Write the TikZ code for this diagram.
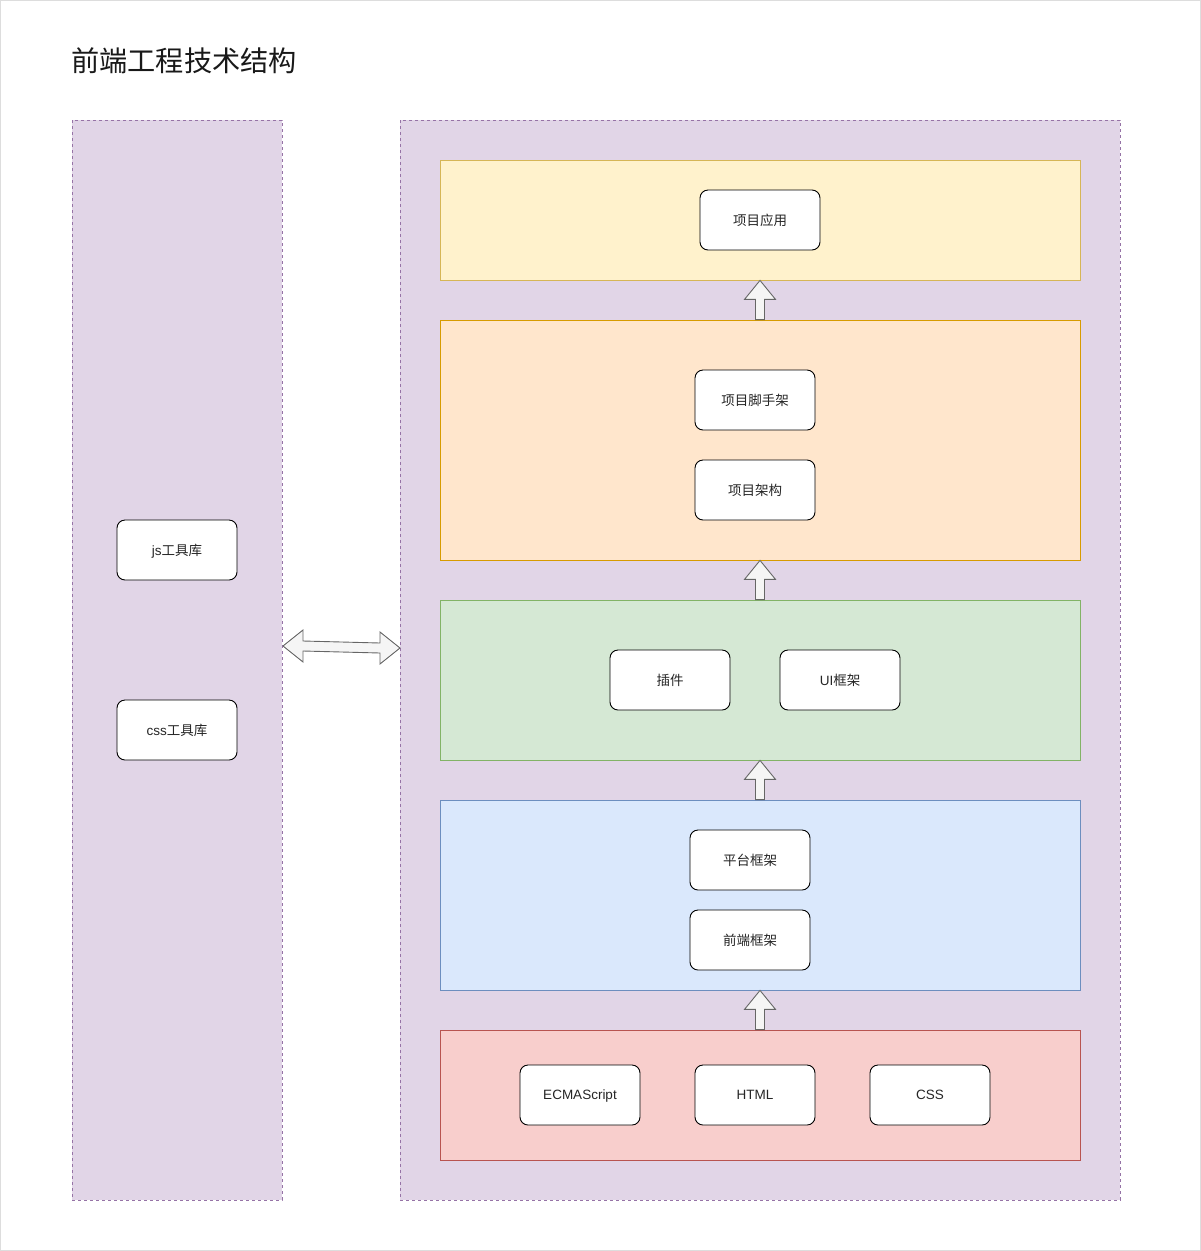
\documentclass[tikz,border=0pt]{standalone}
\usepackage{fontspec}
\setmainfont{Noto Sans CJK SC}
\newfontfamily\lat{Liberation Sans}
\usetikzlibrary{calc}
\definecolor{purf}{HTML}{E1D5E7}\definecolor{purd}{HTML}{9673A6}
\definecolor{yelf}{HTML}{FFF2CC}\definecolor{yeld}{HTML}{D6B656}
\definecolor{oraf}{HTML}{FFE6CC}\definecolor{orad}{HTML}{D79B00}
\definecolor{grnf}{HTML}{D5E8D4}\definecolor{grnd}{HTML}{82B366}
\definecolor{bluf}{HTML}{DAE8FC}\definecolor{blud}{HTML}{6C8EBF}
\definecolor{redf}{HTML}{F8CECC}\definecolor{redd}{HTML}{B85450}
\definecolor{arrf}{HTML}{F5F5F5}\definecolor{arrd}{HTML}{666666}
\definecolor{frame}{HTML}{DDDDDD}
\tikzset{
  panel/.style={fill=purf,draw=purd,line width=0.8pt,dash pattern=on 3pt off 3pt},
  layer/.style={line width=0.8pt},
  item/.style={draw=black,fill=white,line width=0.9pt,rounded corners=8pt,
    minimum width=120pt,minimum height=60pt,inner sep=0pt,font=\fontsize{13.5}{16}\selectfont,text=black!85},
  blk/.style={fill=arrf,draw=arrd,line width=0.9pt,line join=miter},
}
\newcommand{\blockup}[2]{%
  \draw[blk] ($(#1)+(-4.5,0)$) -- ($(#2)+(-4.5,19)$) -- ($(#2)+(-15.5,19)$) -- (#2)
    -- ($(#2)+(15.5,19)$) -- ($(#2)+(4.5,19)$) -- ($(#1)+(4.5,0)$) -- cycle;}
\begin{document}
\begin{tikzpicture}[x=1pt,y=-1pt]
\useasboundingbox (0,0) rectangle (1201,1251);
\draw[frame,line width=1pt] (0.5,0.5) rectangle (1200.5,1250.5);
\node[anchor=west,inner sep=0pt,font=\fontsize{28.2}{32}\selectfont,text=black!90] (title) at (71,61) {前端工程技术结构};
% panels
\draw[panel] (72,120) rectangle (282,1200);
\draw[panel] (400,120) rectangle (1120,1200);
% layers
\node[layer,fill=yelf,draw=yeld,minimum width=640pt,minimum height=120pt,inner sep=0pt] (yel) at (760,220) {};
\node[layer,fill=oraf,draw=orad,minimum width=640pt,minimum height=240pt,inner sep=0pt] (ora) at (760,440) {};
\node[layer,fill=grnf,draw=grnd,minimum width=640pt,minimum height=160pt,inner sep=0pt] (grn) at (760,680) {};
\node[layer,fill=bluf,draw=blud,minimum width=640pt,minimum height=190pt,inner sep=0pt] (blu) at (760,895) {};
\node[layer,fill=redf,draw=redd,minimum width=640pt,minimum height=130pt,inner sep=0pt] (red) at (760,1095) {};
% items
\begin{scope}[every node/.append style={text depth=0pt}]
\node[item] (app) at (760,220) {项目应用};
\node[item] (scaf) at (755,400) {项目脚手架};
\node[item] (arch) at (755,490) {项目架构};
\node[item] (plug) at (670,680) {插件};
\node[item] (ui) at (840,680) {{\lat UI}框架};
\node[item] (plat) at (750,860) {平台框架};
\node[item] (fe) at (750,940) {前端框架};
\node[item] (es) at (580,1095) {\lat ECMAScript};
\node[item] (html) at (755,1095) {\lat HTML};
\node[item] (css) at (930,1095) {\lat CSS};
\node[item] (js) at (177,550) {{\lat js}工具库};
\node[item] (csst) at (177,730) {{\lat css}工具库};
\end{scope}
% block arrows
\blockup{ora.north}{yel.south}
\blockup{grn.north}{ora.south}
\blockup{blu.north}{grn.south}
\blockup{red.north}{blu.south}
% double arrow
\coordinate (da) at (283,646);
\coordinate (db) at (400,648);
\draw[blk] (da) -- ($(da)+(20,-16)$) -- ($(da)+(20,-5)$) -- ($(db)+(-20,-5)$) -- ($(db)+(-20,-16)$) -- (db)
  -- ($(db)+(-20,16)$) -- ($(db)+(-20,5)$) -- ($(da)+(20,5)$) -- ($(da)+(20,16)$) -- cycle;
\end{tikzpicture}
\end{document}
